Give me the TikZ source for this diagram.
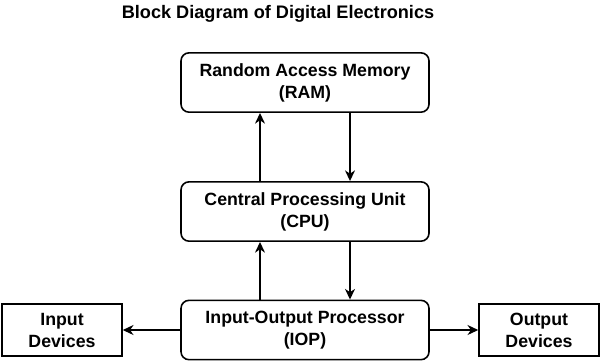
\documentclass[tikz,border=0pt]{standalone}
\usepackage{fontspec}
\setmainfont{Liberation Sans}
\usetikzlibrary{arrows.meta,positioning}

\begin{document}
\begin{tikzpicture}[x=0.75pt, y=-0.75pt,
  font=\bfseries\fontsize{13.3}{16.5}\selectfont,
  unit/.style={draw, line width=1.2pt, rounded corners=6pt, minimum width=186pt, minimum height=44.5pt, align=center, inner sep=0pt},
  device/.style={draw, line width=1.2pt, minimum width=90pt, minimum height=39pt, align=center, inner sep=0pt},
  arr/.style={-{Stealth[length=8pt, width=7.5pt, inset=2.5pt]}, line width=1pt}]
\useasboundingbox (0,0) rectangle (600,362);
% title
\node[font=\bfseries\fontsize{13.6}{16}\selectfont] (title) at (278,13.5) {Block Diagram of Digital Electronics};
% units
\node[unit] (ram) at (305,82.5) {Random Access Memory\\(RAM)};
\node[unit] (cpu) at (305,211.5) {Central Processing Unit\\(CPU)};
\node[unit] (iop) at (305,330) {Input-Output Processor\\(IOP)};
% devices
\node[device] (in) at (62,330) {Input\\Devices};
\node[device] (out) at (539,330) {Output\\Devices};
% arrows
\coordinate (upx) at (260,0);
\coordinate (dnx) at (350,0);
\draw[arr] (cpu.north -| upx) -- (ram.south -| upx);
\draw[arr] (ram.south -| dnx) -- (cpu.north -| dnx);
\draw[arr] (iop.north -| upx) -- (cpu.south -| upx);
\draw[arr] (cpu.south -| dnx) -- (iop.north -| dnx);
\draw[arr] (iop.west) -- (in.east);
\draw[arr] (iop.east) -- (out.west);
\end{tikzpicture}
\end{document}
